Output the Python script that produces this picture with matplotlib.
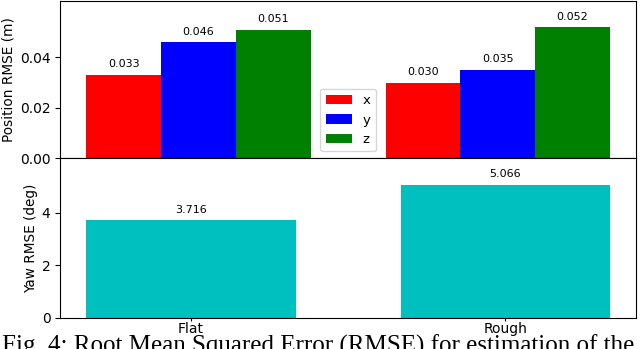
import matplotlib.pyplot as plt
import numpy as np

terrains = ['Flat', 'Rough']
axes_names = ['x', 'y', 'z']
pos_x = [0.033, 0.030]
pos_y = [0.046, 0.035]
pos_z = [0.051, 0.052]
yaw = [3.716, 5.066]
pos_colors = ['r', 'b', 'g']

fig = plt.figure(figsize=(6.4, 3.49), dpi=100)
ax1 = fig.add_axes([0.094, 0.547, 0.900, 0.450])
ax2 = fig.add_axes([0.094, 0.089, 0.900, 0.458])

x = np.arange(len(terrains))
w = 0.25
for i, (vals, name, c) in enumerate(zip([pos_x, pos_y, pos_z], axes_names, pos_colors)):
    bars = ax1.bar(x + (i - 1) * w, vals, w, color=c, label=name)
    for b, v in zip(bars, vals):
        ax1.annotate('%.3f' % v, (b.get_x() + b.get_width() / 2, v),
                     xytext=(0, 4), textcoords='offset points',
                     ha='center', va='bottom', fontsize=8)

ax1.set_ylim(0, max(pos_z) * 1.2)
ax1.set_xticks(x)
ax1.set_xticklabels([])
ax1.set_yticks([0.0, 0.02, 0.04])
ax1.set_yticklabels(['0.00', '0.02', '0.04'])
ax1.tick_params(axis='y', labelsize=10)
ax1.tick_params(axis='x', length=2)
ax1.set_ylabel('Position RMSE (m)', fontsize=9.8, labelpad=3)
ax1.legend(loc='lower center', fontsize=9.5)

bars = ax2.bar(x, yaw, 2 / 3, color='c')
for b, v in zip(bars, yaw):
    ax2.annotate('%.3f' % v, (b.get_x() + b.get_width() / 2, v),
                 xytext=(0, 4), textcoords='offset points',
                 ha='center', va='bottom', fontsize=8)
ax2.set_ylim(0, max(yaw) * 1.2)
ax2.set_xticks(x)
ax2.set_xticklabels(terrains, fontsize=10)
ax2.tick_params(axis='x', length=2, pad=1)
ax2.set_yticks([0, 2, 4])
ax2.tick_params(axis='y', labelsize=10)
ax2.set_ylabel('Yaw RMSE (deg)', fontsize=9.8, labelpad=3)

fig.text(0.003, (349 - 353) / 349,
         'Fig. 4: Root Mean Squared Error (RMSE) for estimation of the',
         family='Liberation Serif', fontsize=18, va='baseline', ha='left')

fig.savefig('out.png', dpi=100)
